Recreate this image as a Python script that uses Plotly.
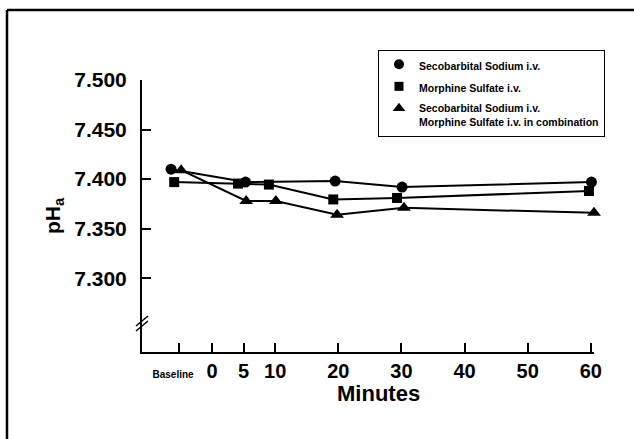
import plotly.graph_objects as go

# ---------------- data ----------------
series_names = [
    "Secobarbital Sodium i.v.",
    "Morphine Sulfate i.v.",
    "Secobarbital Sodium i.v.<br>Morphine Sulfate i.v. in combination",
]
seco_x = [-6.5, 5.3, 19.5, 30.1, 60.1]
seco_y = [7.410, 7.397, 7.398, 7.392, 7.397]
morph_x = [-6.0, 4.1, 9.0, 19.2, 29.3, 59.7]
morph_y = [7.397, 7.3955, 7.3945, 7.3795, 7.381, 7.388]
combo_x = [-4.9, 5.4, 10.1, 19.8, 30.4, 60.5]
combo_y = [7.409, 7.378, 7.378, 7.364, 7.371, 7.366]

x_tickvals = [-5.3, 0, 5, 10, 20, 30, 40, 50, 60]
x_ticklabels = ["Baseline", "0", "5", "10", "20", "30", "40", "50", "60"]
y_tickvals = [7.300, 7.350, 7.400, 7.450, 7.500]
y_ticklabels = ["7.300", "7.350", "7.400", "7.450", "7.500"]

# ---------------- layout constants ----------------
W, H = 634, 439
L, R, T, B = 142, 40, 80, 87
X_RANGE = [-11.1, 60.5]
Y_RANGE = [7.2256, 7.500]
FONT = "Liberation Sans, Arial, Helvetica, sans-serif"
PW, PH = W - L - R, H - T - B


def px_x(px):
    return (px - L) / PW


def px_y(py):
    return (H - B - py) / PH


x_ticktext = [
    '<span style="font-size:10px">%s%s</span>' % (t, "&nbsp;" * 4) if t == "Baseline" else t
    for t in x_ticklabels
]

fig = go.Figure()

series = [
    (seco_x, seco_y, "circle", 11),
    (morph_x, morph_y, "square", 10),
    (combo_x, combo_y, "triangle-up", 12),
]
for i, (xs, ys, sym, sz) in enumerate(series):
    fig.add_trace(go.Scatter(
        x=xs, y=ys, mode="lines+markers",
        line=dict(color="black", width=2),
        marker=dict(symbol=sym, size=sz, color="black"),
        showlegend=False, cliponaxis=False, hoverinfo="skip",
    ))
# legend-only entries (markers only, as in the original key)
for i, (xs, ys, sym, sz) in enumerate(series):
    fig.add_trace(go.Scatter(
        x=[None], y=[None], mode="markers", name=series_names[i],
        marker=dict(symbol=sym, size=sz - 1, color="black"),
        legendgroup="g%d" % i, showlegend=True,
    ))

shapes = [
    # outer frame (top and left edges visible in the original)
    dict(type="line", xref="paper", yref="paper",
         x0=px_x(7), x1=px_x(640), y0=px_y(10), y1=px_y(10),
         line=dict(color="black", width=2.5), layer="below"),
    dict(type="line", xref="paper", yref="paper",
         x0=px_x(7), x1=px_x(7), y0=px_y(10), y1=px_y(445),
         line=dict(color="black", width=2.5), layer="below"),
    # axis break marks
    dict(type="line", xref="paper", yref="paper",
         x0=px_x(136), x1=px_x(148), y0=px_y(331), y1=px_y(321),
         line=dict(color="black", width=1.5)),
    dict(type="line", xref="paper", yref="paper",
         x0=px_x(136), x1=px_x(148), y0=px_y(326), y1=px_y(316),
         line=dict(color="black", width=1.5)),
]

fig.update_layout(
    width=W, height=H,
    margin=dict(l=L, r=R, t=T, b=B, pad=0),
    paper_bgcolor="white", plot_bgcolor="white",
    font=dict(family=FONT, color="black"),
    shapes=shapes,
    legend=dict(
        x=px_x(378), y=px_y(50), xanchor="left", yanchor="top",
        bordercolor="black", borderwidth=1, bgcolor="white",
        font=dict(size=10.5, family=FONT, color="black", weight="bold"),
        traceorder="grouped", tracegroupgap=3, valign="top",
        itemwidth=30,
    ),
    xaxis=dict(
        range=X_RANGE, showgrid=False, zeroline=False,
        showline=True, linecolor="black", linewidth=2,
        ticks="inside", ticklen=9, tickwidth=1.5, tickcolor="black",
        tickvals=x_tickvals, ticktext=x_ticktext, tickangle=0,
        tickfont=dict(size=20, family=FONT, weight="bold"),
        ticklabelstandoff=0,
    ),
    yaxis=dict(
        range=Y_RANGE, showgrid=False, zeroline=False,
        showline=True, linecolor="black", linewidth=2,
        ticks="inside", ticklen=9, tickwidth=1.5, tickcolor="black",
        tickvals=y_tickvals, ticktext=y_ticklabels,
        tickfont=dict(size=21, family=FONT, weight="bold"),
        ticklabelstandoff=9,
        title=dict(text="pH<sub>a</sub>",
                   font=dict(size=21, family=FONT, weight="bold"),
                   standoff=8),
    ),
    annotations=[
        dict(text="Minutes", xref="paper", yref="paper",
             x=px_x(378), y=px_y(393), xanchor="center", yanchor="middle",
             showarrow=False,
             font=dict(size=22, family=FONT, weight="bold", color="black")),
    ],
)

fig.write_html("out.html")
